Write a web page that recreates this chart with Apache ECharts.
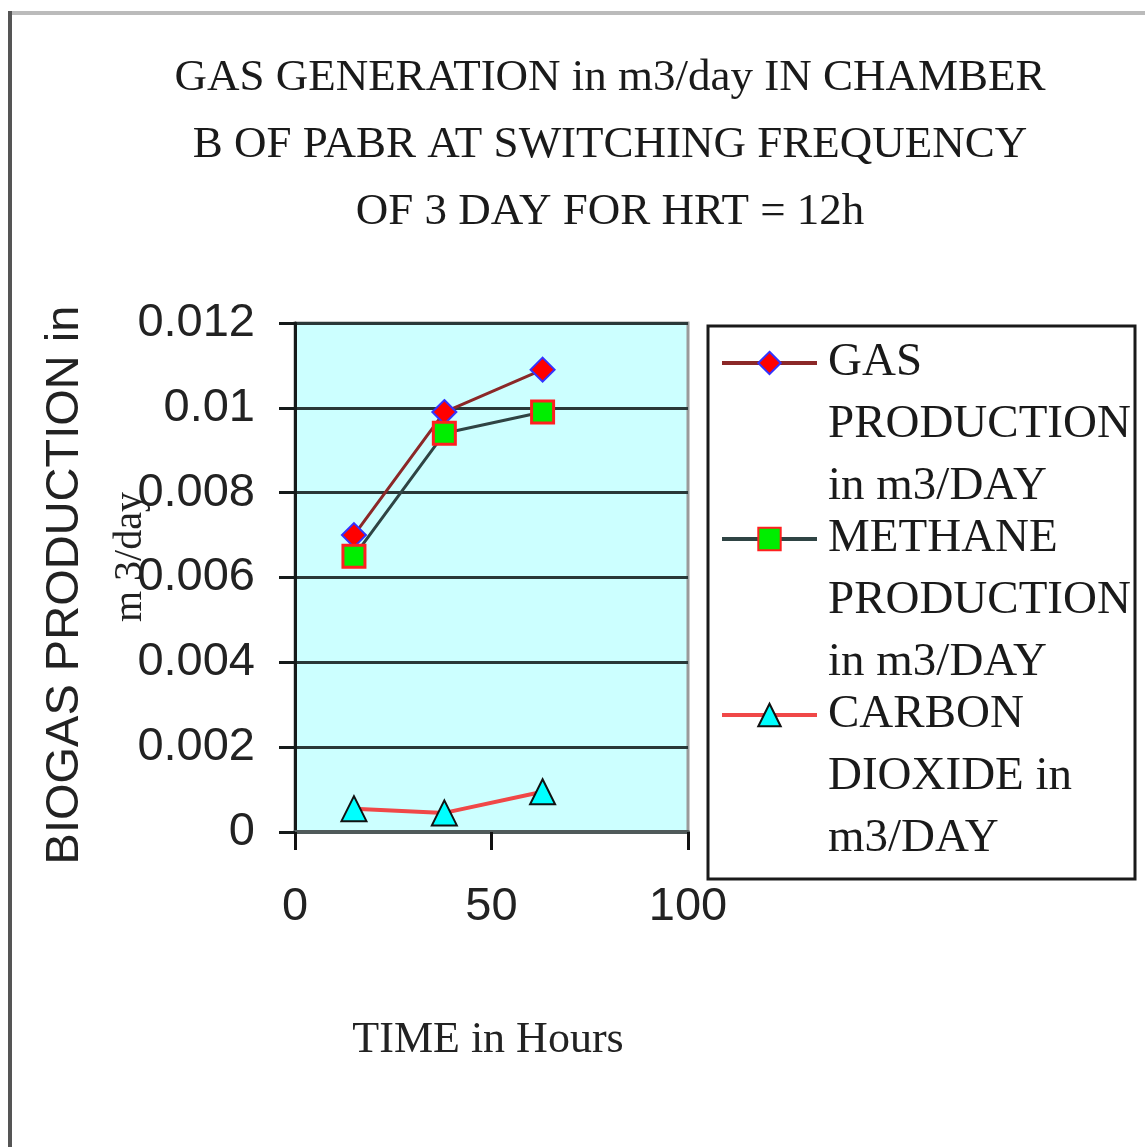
<!DOCTYPE html>
<html>
<head>
<meta charset="utf-8">
<script src="https://cdn.jsdelivr.net/npm/echarts@6/dist/echarts.min.js"></script>
<style>
  html, body { margin: 0; padding: 0; background: #ffffff; }
  #chart { width: 1145px; height: 1147px; }
</style>
</head>
<body>
<div id="chart"></div>
<script>
// Chart text
const titleLines = [
  'GAS GENERATION in m3/day IN CHAMBER',
  'B OF PABR AT SWITCHING FREQUENCY',
  'OF 3 DAY FOR HRT = 12h'
];
const yAxisTitle = 'BIOGAS PRODUCTION in';
const yAxisUnit = 'm 3/day';
const xAxisTitle = 'TIME in Hours';

// Sampling times (hours)
const hours = [15, 38, 63];

// Production in m3/day
const gasProduction = [0.0070, 0.0099, 0.0109];
const methaneProduction = [0.0065, 0.0094, 0.0099];
const carbonDioxide = [0.00055, 0.00045, 0.00095];

const seriesNames = [
  'GAS\nPRODUCTION\nin m3/DAY',
  'METHANE\nPRODUCTION\nin m3/DAY',
  'CARBON\nDIOXIDE in\nm3/DAY'
];

// Axis ranges: [min, max, interval]
const xRange = [0, 100, 50];
const yRange = [0, 0.012, 0.002];

const serif = '"Liberation Serif", "DejaVu Serif", serif';
const sans = '"Liberation Sans Narrow", "Liberation Sans", Arial, sans-serif';

const chart = echarts.init(document.getElementById('chart'), null, { renderer: 'canvas' });

const pairs = (ys) => hours.map((h, i) => [h, ys[i]]);

chart.setOption({
  animation: false,
  backgroundColor: '#ffffff',
  grid: {
    left: 295, right: 457, top: 323, bottom: 315,
    show: true,
    backgroundColor: '#ccffff',
    borderColor: '#9a9a9a',
    borderWidth: 3
  },
  xAxis: {
    type: 'value',
    min: xRange[0], max: xRange[1], interval: xRange[2],
    axisLine: { show: true, onZero: false, lineStyle: { color: '#505a5a', width: 4 } },
    axisTick: { show: true, inside: false, length: 18, lineStyle: { color: '#111', width: 3 } },
    axisLabel: { margin: 52, color: '#222', fontFamily: sans, fontSize: 47 },
    splitLine: { show: false }
  },
  yAxis: {
    type: 'value',
    min: yRange[0], max: yRange[1], interval: yRange[2],
    axisLine: { show: true, lineStyle: { color: '#151a1a', width: 3 } },
    axisTick: { show: true, inside: false, length: 16, lineStyle: { color: '#151a1a', width: 3 } },
    axisLabel: { margin: 40, color: '#222', fontFamily: sans, fontSize: 47 },
    splitLine: { show: true, lineStyle: { color: '#2a3838', width: 3 } }
  },
  legend: {
    orient: 'vertical',
    left: 720,
    top: 208,
    padding: 0,
    itemWidth: 95,
    itemHeight: 28,
    itemGap: -134,
    data: seriesNames,
    formatter: (name) => '\n\n' + name,
    lineStyle: { width: 4 },
    textStyle: {
      fontFamily: serif,
      fontSize: 47,
      lineHeight: 62,
      color: '#1a1a1a',
      padding: [0, 0, 0, 6]
    }
  },
  series: [
    {
      name: seriesNames[0],
      type: 'line',
      data: pairs(gasProduction),
      symbol: 'diamond',
      symbolSize: 24,
      itemStyle: { color: '#ff0000', borderColor: '#3333ff', borderWidth: 2 },
      lineStyle: { color: '#8b2828', width: 3 }
    },
    {
      name: seriesNames[1],
      type: 'line',
      data: pairs(methaneProduction),
      symbol: 'rect',
      symbolSize: 22,
      itemStyle: { color: '#00ee00', borderColor: '#ff2020', borderWidth: 3 },
      lineStyle: { color: '#2f4444', width: 3 }
    },
    {
      name: seriesNames[2],
      type: 'line',
      data: pairs(carbonDioxide),
      symbol: 'triangle',
      symbolSize: 25,
      itemStyle: { color: '#00ffff', borderColor: '#111111', borderWidth: 2 },
      lineStyle: { color: '#f04848', width: 4 }
    }
  ],
  graphic: [
    // page frame
    { type: 'line', shape: { x1: 8, y1: 13, x2: 1145, y2: 13 }, style: { stroke: '#bbbbbb', lineWidth: 4 }, silent: true },
    { type: 'line', shape: { x1: 10, y1: 11, x2: 10, y2: 1147 }, style: { stroke: '#555555', lineWidth: 4 }, silent: true },
    // legend frame
    { type: 'rect', shape: { x: 708, y: 326, width: 427, height: 553 }, style: { fill: 'none', stroke: '#1a1a1a', lineWidth: 3 }, silent: true, z: 1 },
    // title
    {
      type: 'text', x: 610, y: 78,
      style: { text: titleLines[0], fontFamily: serif, fontSize: 45, fill: '#1a1a1a', textAlign: 'center', textVerticalAlign: 'middle' }
    },
    {
      type: 'text', x: 610, y: 145,
      style: { text: titleLines[1], fontFamily: serif, fontSize: 45, fill: '#1a1a1a', textAlign: 'center', textVerticalAlign: 'middle' }
    },
    {
      type: 'text', x: 610, y: 212,
      style: { text: titleLines[2], fontFamily: serif, fontSize: 45, fill: '#1a1a1a', textAlign: 'center', textVerticalAlign: 'middle' }
    },
    // y axis title (two lines)
    {
      type: 'text', x: 65, y: 585, rotation: Math.PI / 2,
      style: { text: yAxisTitle, fontFamily: '"Liberation Sans", Arial, sans-serif', fontSize: 47, fill: '#222', textAlign: 'center', textVerticalAlign: 'middle' }
    },
    {
      type: 'text', x: 130, y: 557, rotation: Math.PI / 2,
      style: { text: yAxisUnit, fontFamily: serif, fontSize: 40, fill: '#222', textAlign: 'center', textVerticalAlign: 'middle' }
    },
    // x axis title
    {
      type: 'text', x: 488, y: 1040,
      style: { text: xAxisTitle, fontFamily: serif, fontSize: 44, fill: '#222', textAlign: 'center', textVerticalAlign: 'middle' }
    }
  ]
});
</script>
</body>
</html>
